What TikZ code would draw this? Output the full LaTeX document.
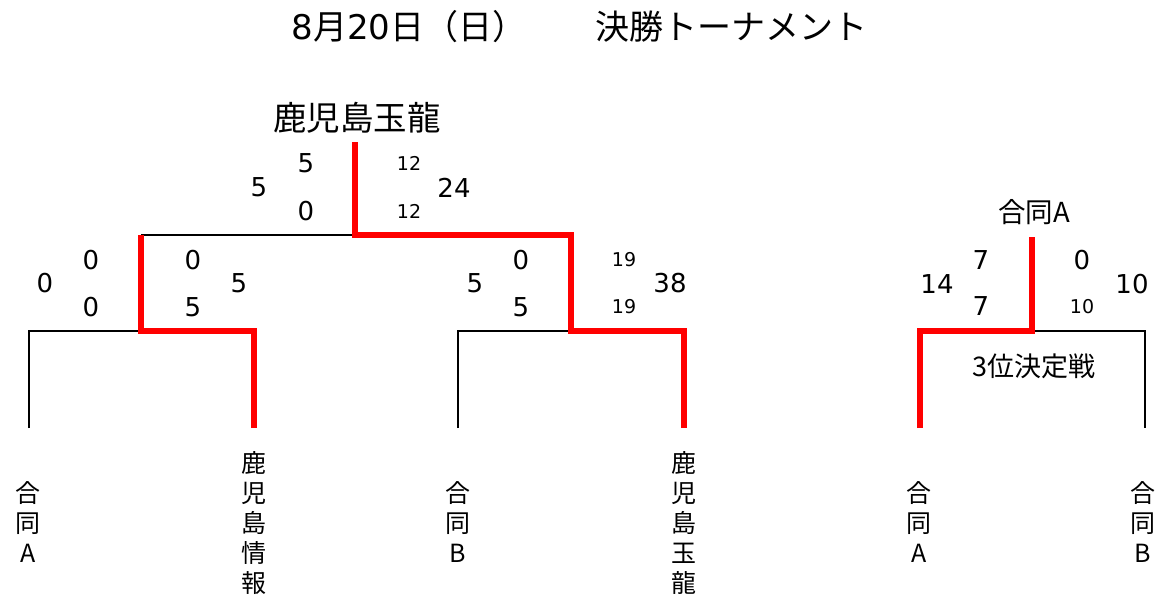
\documentclass[tikz,border=0pt]{standalone}
\usepackage{fontspec}
\setmainfont{Noto Sans CJK JP}
\newfontfamily\numfont{DejaVu Sans}
\usetikzlibrary{positioning,calc}

\begin{document}
\begin{tikzpicture}[x=1pt,y=-1pt]
	\tikzset{win/.style={draw=red,line width=6.5pt,line join=miter},
		lose/.style={draw=black,line width=2.8pt},
		score/.style={inner sep=0pt,font=\numfont\fontsize{26}{26}\selectfont},
		sub/.style={inner sep=0pt,font=\numfont\fontsize{19}{19}\selectfont},
		team/.style={inner sep=0pt,anchor=north,align=center,font=\fontsize{25}{30}\selectfont},
		title/.style={inner sep=0pt,font=\fontsize{34}{34}\selectfont}}
	\useasboundingbox (0,0) rectangle (1169,595);

	\node[title] (date) at (409,27) {{\numfont 8}月{\numfont 20}日（日）};
	\node[title] (name) at (731,27) {決勝トーナメント};

	% teams
	\node[team] (tA) at (28,481) {合\\同\\A};
	\node[team] (tJ) at (254,451) {鹿\\児\\島\\情\\報};
	\node[team] (tB) at (458,481) {合\\同\\B};
	\node[team] (tG) at (684,451) {鹿\\児\\島\\玉\\龍};
	\node[team] (tA3) at (919,481) {合\\同\\A};
	\node[team] (tB3) at (1143,481) {合\\同\\B};

	\coordinate (pA) at (29,428);
	\coordinate (pJ) at (254,428);
	\coordinate (pB) at (458,428);
	\coordinate (pG) at (684,428);
	\coordinate (pA3) at (920,428);
	\coordinate (pB3) at (1145,428);
	\coordinate (s1) at (141,331);
	\coordinate (s2) at (571,331);
	\coordinate (fin) at (355,235);
	\coordinate (top) at (355,142);
	\coordinate (th) at (1032,331);
	\coordinate (thtop) at (1032,237);

	\node[title,font=\fontsize{33.5}{34}\selectfont] (champ) at (357,118) {鹿児島玉龍};
	\node[inner sep=0pt,font=\fontsize{27.5}{28}\selectfont] (third) at (1034,212) {合同A};
	\node[inner sep=0pt,font=\fontsize{27}{27}\selectfont] (lbl3) at (1034,366) {3位決定戦};

	% brackets
	\draw[lose] (pA) |- (s1);
	\draw[lose] (s1 |- fin) -- (fin);
	\draw[lose] (pB) |- (s2);
	\draw[lose] (th) -| (pB3);
	\draw[win] (pJ) |- (s1) -- (s1 |- fin);
	\draw[win] (pG) |- (s2) |- (fin) -- (top);
	\draw[win] (pA3) |- (th) -- (thtop);

	% scores
	\node[score] at (45,283) {0};
	\node[score] at (91,260) {0};
	\node[score] at (91,307) {0};
	\node[score] at (193,260) {0};
	\node[score] at (193,307) {5};
	\node[score] at (239,283) {5};

	\node[score] at (259,187) {5};
	\node[score] at (306,163) {5};
	\node[score] at (306,211) {0};
	\node[sub] at (409,163) {12};
	\node[sub] at (409,211) {12};
	\node[score] at (454,188) {24};

	\node[score] at (475,283) {5};
	\node[score] at (521,260) {0};
	\node[score] at (521,307) {5};
	\node[sub] at (624,260) {19};
	\node[sub] at (624,307) {19};
	\node[score] at (670,283) {38};

	\node[score] at (937,284) {14};
	\node[score] at (981,260) {7};
	\node[score] at (981,306) {7};
	\node[score] at (1082,260) {0};
	\node[sub] at (1082,307) {10};
	\node[score] at (1132,284) {10};
\end{tikzpicture}
\end{document}
